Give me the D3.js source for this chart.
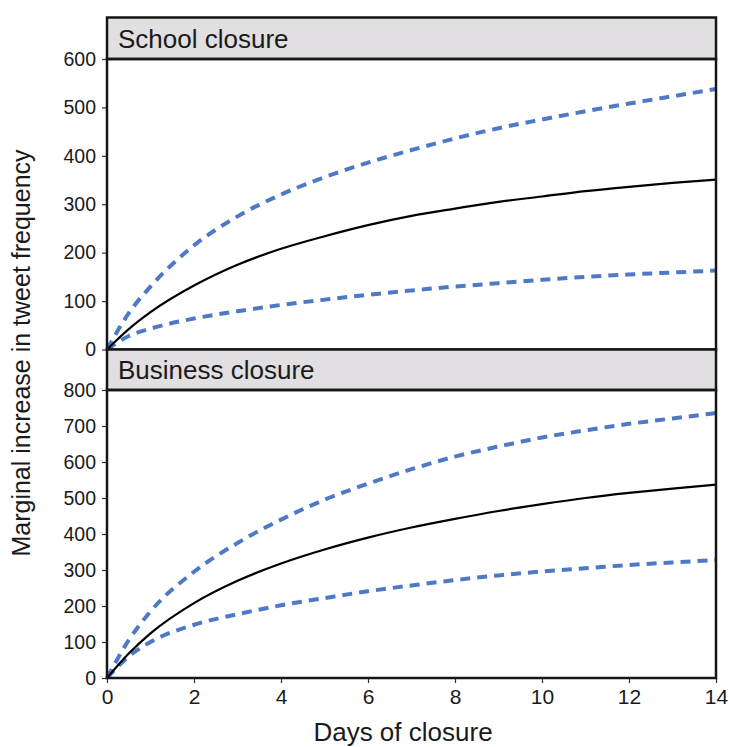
<!DOCTYPE html>
<html>
<head>
<meta charset="utf-8">
<script src="https://cdn.jsdelivr.net/npm/d3@7"></script>
<style>
  html, body { margin: 0; padding: 0; background: #fff; }
  svg { display: block; font-family: "Liberation Sans", Arial, Helvetica, sans-serif; }
</style>
</head>
<body>
<svg id="chart" width="729" height="747"></svg>
<script>
// Days since closure at which the fitted curves are evaluated
const days = [0, 0.5, 1, 2, 3, 4, 5, 6, 7, 8, 9, 10, 11, 12, 13, 14];

// School closure: fitted response and its confidence band
const schoolFit   = [0, 42, 77, 132, 175, 208, 234, 257, 276, 291, 305, 316, 327, 336, 344, 351];
const schoolUpper = [0, 75, 130, 215, 275, 320, 356, 386, 412, 436, 457, 475, 492, 508, 523, 538];
const schoolLower = [0, 28, 43, 64, 79, 92, 103, 113, 122, 130, 137, 144, 150, 155, 159, 163];

// Business closure: fitted response and its confidence band
const businessFit   = [0, 68, 124, 208, 270, 318, 357, 390, 418, 442, 464, 483, 500, 514, 526, 537];
const businessUpper = [0, 105, 185, 295, 375, 440, 495, 540, 580, 615, 643, 668, 688, 706, 721, 736];
const businessLower = [0, 60, 100, 148, 177, 202, 222, 241, 257, 272, 285, 296, 305, 314, 321, 328];

const xTicks = [0, 2, 4, 6, 8, 10, 12, 14];
const schoolTicks = [0, 100, 200, 300, 400, 500, 600];
const businessTicks = [0, 100, 200, 300, 400, 500, 600, 700, 800];

const panels = [
  { title: "School closure", fit: schoolFit, upper: schoolUpper, lower: schoolLower,
    yMax: 600, yTicks: schoolTicks, stripTop: 17.5, top: 59, bottom: 349.5, xAxis: false },
  { title: "Business closure", fit: businessFit, upper: businessUpper, lower: businessLower,
    yMax: 800, yTicks: businessTicks, stripTop: 349.5, top: 390, bottom: 678, xAxis: true }
];

const left = 107, right = 716;
const svg = d3.select("#chart");
const x = d3.scaleLinear().domain([0, 14]).range([left, right]);

const blue = "#4d79c7";
const frameColor = "#161616";
const textColor = "#1a1a1a";

panels.forEach(p => {
  const y = d3.scaleLinear().domain([0, p.yMax]).range([p.bottom, p.top]);
  const g = svg.append("g");

  // strip header
  g.append("rect")
    .attr("x", left).attr("y", p.stripTop)
    .attr("width", right - left).attr("height", p.top - p.stripTop)
    .attr("fill", "#e1dfe1")
    .attr("stroke", frameColor).attr("stroke-width", 2.5);
  g.append("text")
    .attr("x", left + 11).attr("y", p.top - 11.5)
    .attr("font-size", 26).attr("fill", textColor)
    .text(p.title);

  // y axis
  const yAxis = d3.axisLeft(y).tickValues(p.yTicks).tickSize(5).tickPadding(6);
  const ya = g.append("g").attr("transform", `translate(${left},0)`).call(yAxis);
  ya.select(".domain").remove();
  ya.selectAll(".tick line").attr("stroke", "#333").attr("stroke-width", 1.2);
  ya.selectAll(".tick text").attr("font-size", 19.5).attr("fill", textColor)
    .attr("font-family", "Liberation Sans, Arial, sans-serif");

  if (p.xAxis) {
    const xAxis = d3.axisBottom(x).tickValues(xTicks).tickSize(5).tickPadding(6);
    const xa = g.append("g").attr("transform", `translate(0,${p.bottom})`).call(xAxis);
    xa.select(".domain").remove();
    xa.selectAll(".tick line").attr("stroke", "#333").attr("stroke-width", 1.2);
    xa.selectAll(".tick text").attr("font-size", 21).attr("fill", textColor)
      .attr("font-family", "Liberation Sans, Arial, sans-serif");
  }

  const line = vals => d3.line()
    .x((d, i) => x(days[i]))
    .y(d => y(d))
    .curve(d3.curveMonotoneX)(vals);

  g.append("path").attr("d", line(p.upper))
    .attr("fill", "none").attr("stroke", blue).attr("stroke-width", 4)
    .attr("stroke-dasharray", "10,7");
  g.append("path").attr("d", line(p.lower))
    .attr("fill", "none").attr("stroke", blue).attr("stroke-width", 4)
    .attr("stroke-dasharray", "10,7");
  g.append("path").attr("d", line(p.fit))
    .attr("fill", "none").attr("stroke", "#000").attr("stroke-width", 2.2);

  // panel frame
  g.append("rect")
    .attr("x", left).attr("y", p.top)
    .attr("width", right - left).attr("height", p.bottom - p.top)
    .attr("fill", "none")
    .attr("stroke", frameColor).attr("stroke-width", 2.5);
});

// axis titles
svg.append("text")
  .attr("x", 403).attr("y", 741)
  .attr("text-anchor", "middle").attr("font-size", 26).attr("fill", textColor)
  .text("Days of closure");

svg.append("text")
  .attr("transform", "translate(30,353) rotate(-90)")
  .attr("text-anchor", "middle").attr("font-size", 25).attr("fill", textColor)
  .text("Marginal increase in tweet frequency");
</script>
</body>
</html>
